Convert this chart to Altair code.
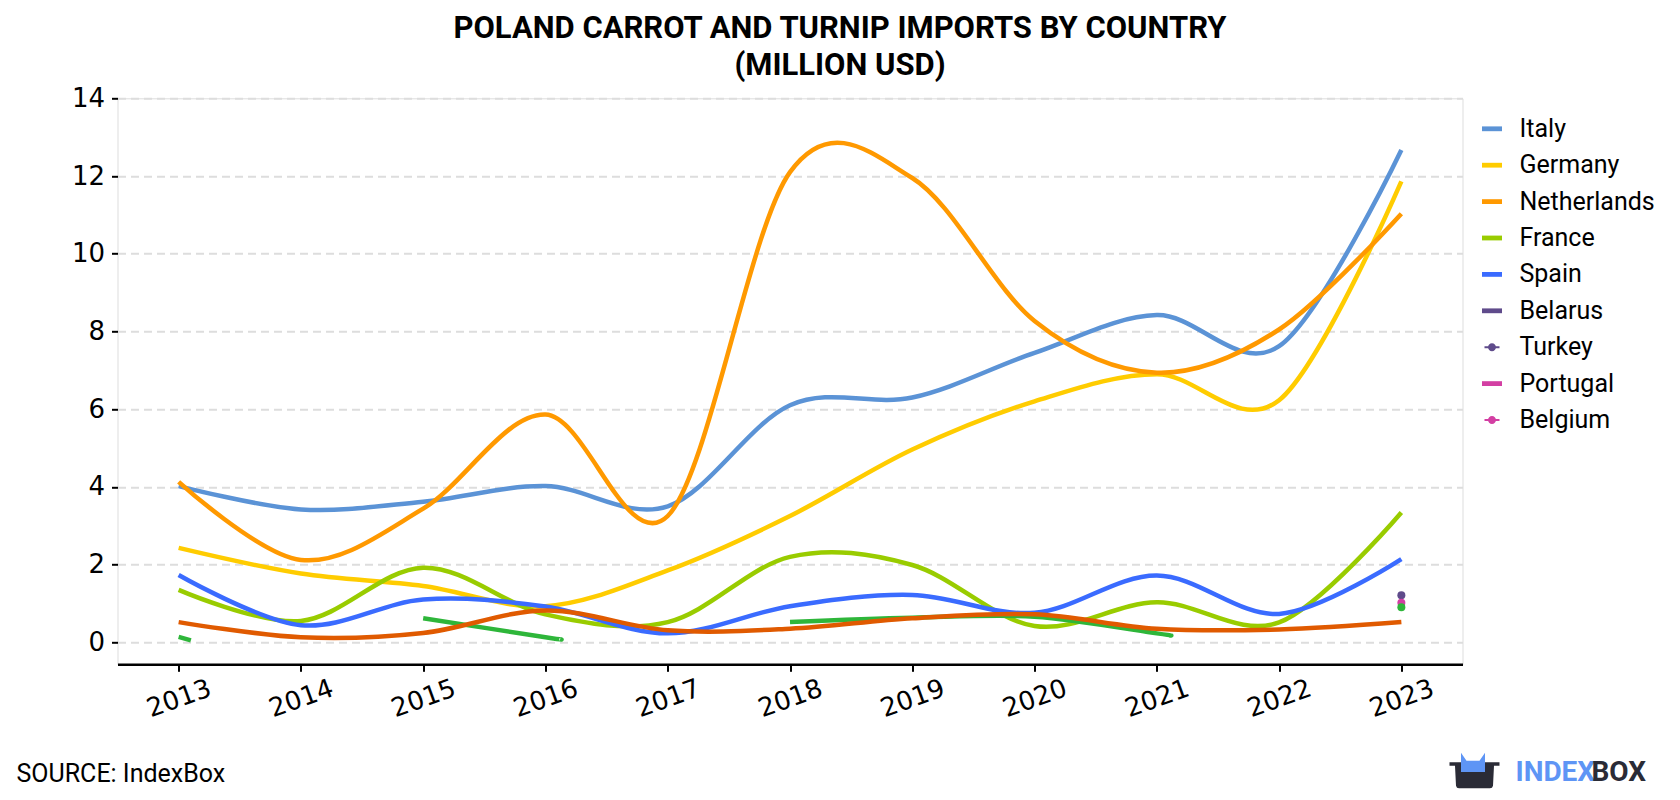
import altair as alt
import pandas as pd

# ---------------- data ----------------
years = [2013, 2014, 2015, 2016, 2017, 2018, 2019, 2020, 2021, 2022, 2023]
italy = [4.02, 3.42, 3.62, 4.02, 3.50, 6.10, 6.30, 7.45, 8.42, 7.62, 12.67]
germany = [2.43, 1.77, 1.45, 0.93, 1.85, 3.25, 4.96, 6.20, 6.90, 6.23, 11.86]
netherlands = [4.13, 2.12, 3.44, 5.86, 3.25, 12.10, 11.95, 8.27, 6.94, 8.05, 11.03]
france = [1.35, 0.55, 1.92, 0.72, 0.52, 2.20, 1.99, 0.42, 1.03, 0.51, 3.34]
spain = [1.73, 0.44, 1.10, 0.92, 0.23, 0.93, 1.22, 0.76, 1.72, 0.73, 2.14]
unlisted_b = [0.52, 0.13, 0.24, 0.82, 0.31, 0.35, 0.62, 0.72, 0.35, 0.33, 0.52]

# series with gaps (dark green), drawn as separate segments
green_years = [2013, 2013.1, 2015, 2016, 2016.12, 2018, 2019, 2020, 2021, 2021.1]
green_vals = [0.14, 0.05, 0.62, 0.13, 0.08, 0.52, 0.63, 0.66, 0.23, 0.18]
green_seg = [1, 1, 2, 2, 2, 3, 3, 3, 3, 3]

# single 2023 points
dot_series = ["Turkey", "Belgium", "Unlisted A"]
dot_years = [2023, 2023, 2023]
dot_vals = [1.21, 1.02, 0.90]

legend_names = ["Italy", "Germany", "Netherlands", "France", "Spain",
                "Belarus", "Turkey", "Portugal", "Belgium"]
all_names = legend_names + ["Unlisted A", "Unlisted B"]
colors = ["#5b93d6", "#ffcc00", "#ff9900", "#99cc00", "#3a6bff",
          "#5f4b8b", "#5f4b8b", "#d33fa3", "#d33fa3", "#2eb63a", "#e05a00"]

BAR = "M-1,-0.24H1V0.24H-1Z"
DOTLINE = ("M-0.75,-0.1H0.75V0.1H-0.75Z "
           "M0.4,0A0.4,0.4 0 1,1 -0.4,0A0.4,0.4 0 1,1 0.4,0Z")
legend_shapes = [BAR, BAR, BAR, BAR, BAR, BAR, DOTLINE, BAR, DOTLINE]

# ---------------- tables ----------------
rows = []
for name, vals in [("Italy", italy), ("Germany", germany),
                   ("Netherlands", netherlands), ("France", france),
                   ("Spain", spain)]:
    for y, v in zip(years, vals):
        rows.append({"year": y, "value": v, "series": name, "seg": name})
for y, v, s in zip(green_years, green_vals, green_seg):
    rows.append({"year": y, "value": v, "series": "Unlisted A", "seg": f"A{s}"})
for y, v in zip(years, unlisted_b):
    rows.append({"year": y, "value": v, "series": "Unlisted B", "seg": "B"})
lines_df = pd.DataFrame(rows)
lines_df["ord"] = range(len(lines_df))

dots_df = pd.DataFrame({"year": dot_years, "value": dot_vals, "series": dot_series})
legend_df = pd.DataFrame({"year": [2013] * len(legend_names),
                          "value": [0.0] * len(legend_names),
                          "series": legend_names})

x_scale = alt.Scale(domain=[2012.5, 2023.5], nice=False, zero=False)
y_scale = alt.Scale(domain=[-0.566, 14], nice=False, zero=False)

x_axis = alt.Axis(values=years, format="d", title=None, grid=False,
                  labelAngle=340, labelAlign="center", labelBaseline="middle",
                  labelPadding=27, labelFont="DejaVu Sans", labelFontSize=26,
                  labelColor="black", tickSize=7, tickWidth=2, tickColor="black",
                  domainColor="black", domainWidth=2.5)
y_axis = alt.Axis(values=[0, 2, 4, 6, 8, 10, 12, 14], title=None, grid=True,
                  gridDash=[8, 5], gridColor="#dddddd", gridWidth=2,
                  domain=False, tickSize=6, tickWidth=2, tickColor="black",
                  labelPadding=7, labelFont="DejaVu Sans", labelFontSize=26,
                  labelColor="black")

X = alt.X("year:Q", scale=x_scale, axis=x_axis)
Y = alt.Y("value:Q", scale=y_scale, axis=y_axis)

# lines coloured through the stroke channel (no legend)
lines = alt.Chart(lines_df).mark_line(
    interpolate="cardinal", strokeWidth=4.5, strokeCap="butt"
).encode(
    x=X, y=Y,
    stroke=alt.Stroke("series:N",
                      scale=alt.Scale(domain=all_names, range=colors),
                      legend=None),
    detail="seg:N",
    order="ord:Q",
)

# isolated 2023 points coloured through the fill channel (no legend)
dots = alt.Chart(dots_df).mark_circle(size=64, opacity=1).encode(
    x=X, y=Y,
    fill=alt.Fill("series:N",
                  scale=alt.Scale(domain=all_names, range=colors),
                  legend=None),
)

# legend carrier: colour + shape on the same field/domain -> one merged legend
leg = alt.Legend(values=legend_names, title=None, orient="none",
                 legendX=1362, legendY=18, labelFont="Roboto",
                 labelFontSize=25, labelColor="black", labelOffset=15,
                 symbolSize=400, symbolStrokeWidth=0, rowPadding=10.4,
                 labelLimit=300)

legend_layer = alt.Chart(legend_df).mark_point(
    filled=True, opacity=1, size=400
).encode(
    x=X, y=Y,
    color=alt.Color("series:N",
                    scale=alt.Scale(domain=legend_names, range=colors[:9]),
                    legend=leg),
    shape=alt.Shape("series:N",
                    scale=alt.Scale(domain=legend_names, range=legend_shapes),
                    legend=leg),
).transform_filter(alt.datum.value > 1000)

ann_df = pd.DataFrame({"t": ["SOURCE: IndexBox"]})
source = alt.Chart(ann_df).mark_text(
    font="Roboto", fontSize=25, color="black", align="left", baseline="middle"
).encode(text="t:N", x=alt.value(-101), y=alt.value(675.5))

logo_df = pd.DataFrame({"a": ["INDEX"], "b": ["BOX"]})
logo_a = alt.Chart(logo_df).mark_text(
    font="Roboto", fontSize=28, fontWeight="bold", color="#5e95f5",
    align="left", baseline="middle"
).encode(text="a:N", x=alt.value(1398), y=alt.value(675))
logo_b = alt.Chart(logo_df).mark_text(
    font="Roboto", fontSize=28, fontWeight="bold", color="#2a2b36",
    align="left", baseline="middle"
).encode(text="b:N", x=alt.value(1474), y=alt.value(675))

BOXPATH = ("M-1,-0.34L1,-0.34L1,-0.2L0.78,-0.2L0.74,0.6Q0.72,0.7 0.62,0.7"
           "L-0.62,0.7Q-0.72,0.7 -0.74,0.6L-0.78,-0.2L-1,-0.2Z")
CROWN = "M-0.54,0.05L-0.54,-0.72L-0.32,-0.4L0.2,-0.4L0.42,-0.72L0.42,0.05Z"
icon_box = alt.Chart(logo_df).mark_point(
    shape=BOXPATH, size=2500, filled=True, color="#2a2b36", opacity=1
).encode(x=alt.value(1357), y=alt.value(672.5))
icon_crown = alt.Chart(logo_df).mark_point(
    shape=CROWN, size=2500, filled=True, color="#5e95f5", opacity=1
).encode(x=alt.value(1357), y=alt.value(672.5))

chart = alt.layer(
    lines, dots, legend_layer, source, icon_box, icon_crown, logo_a, logo_b
).properties(
    width=1345, height=566,
    autosize=alt.AutoSizeParams(type="none"),
    padding={"left": 109.5, "top": 90.3, "right": 200, "bottom": 127},
    title=alt.Title(
        text=["POLAND CARROT AND TURNIP IMPORTS BY COUNTRY", "(MILLION USD)"],
        font="Roboto", fontSize=31, fontWeight="bold", color="black",
        anchor="middle", frame="group", dx=50, offset=3, lineHeight=37.5,
    ),
).configure_view(stroke=None).configure(background="white")

chart.save("out.html", embed_options={"renderer": "svg", "actions": False})
